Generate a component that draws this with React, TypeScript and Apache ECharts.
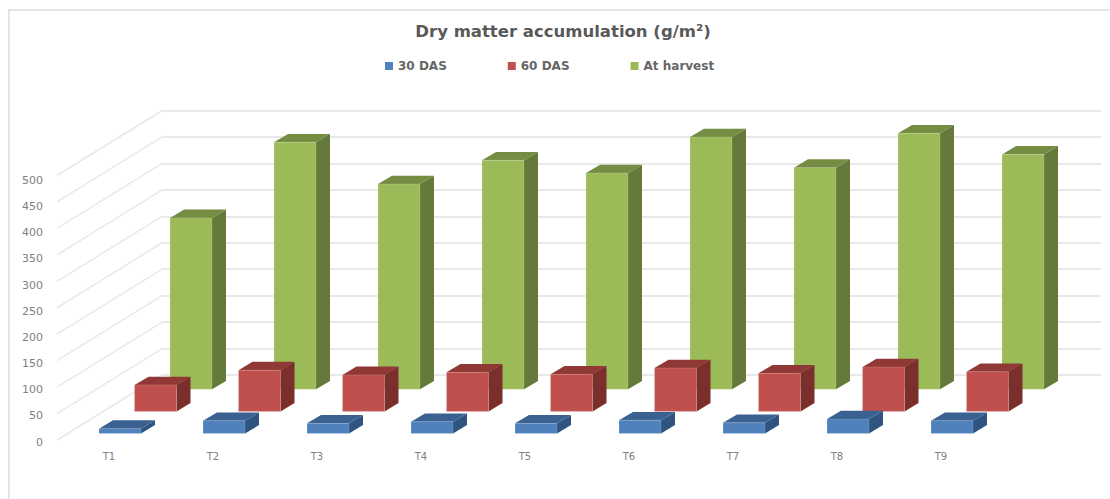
import React, { useEffect, useRef } from "react";
import * as echarts from "echarts";

const categories = ["T1", "T2", "T3", "T4", "T5", "T6", "T7", "T8", "T9"];
const das30 = [9, 24, 19, 22, 19, 25, 20, 27, 24];
const das60 = [50, 78, 69, 74, 70, 82, 72, 84, 75];
const atHarvest = [324, 467, 388, 433, 409, 477, 419, 484, 444];
const yTicks = [0, 50, 100, 150, 200, 250, 300, 350, 400, 450, 500];

const FONT = "DejaVu Sans";
const BAR_W = 42;
const THICK_X = 14;
const THICK_Y = -8.3;
const WALL_DX = 106;
const WALL_DY = -65.5;

const bar3d = (shiftX: number, shiftY: number, front: string, top: string, side: string) =>
  (_p: any, api: any) => {
    const base = api.coord([api.value(0), 0]);
    const peak = api.coord([api.value(0), api.value(1)]);
    const l = base[0] + shiftX - BAR_W / 2;
    const r = l + BAR_W;
    const b = base[1] + shiftY;
    const t = peak[1] + shiftY;
    return {
      type: "group",
      silent: true,
      children: [
        {
          type: "polygon",
          shape: { points: [[r, t], [r + THICK_X, t + THICK_Y], [r + THICK_X, b + THICK_Y], [r, b]] },
          style: { fill: side },
        },
        {
          type: "polygon",
          shape: { points: [[l, t], [l + THICK_X, t + THICK_Y], [r + THICK_X, t + THICK_Y], [r, t]] },
          style: { fill: top },
        },
        {
          type: "polygon",
          shape: { points: [[l, t], [r, t], [r, b], [l, b]] },
          style: { fill: front, stroke: "rgba(255,255,255,0.15)", lineWidth: 1 },
        },
      ],
    };
  };

const sideWall = (_p: any, api: any) => {
  const p = api.coord([0, api.value(0)]);
  const x0 = p[0] - 52;
  return {
    type: "line",
    silent: true,
    shape: { x1: x0, y1: p[1], x2: x0 + WALL_DX, y2: p[1] + WALL_DY },
    style: { stroke: "#e9e9e9", lineWidth: 1.5 },
  };
};

const toPairs = (values: number[]) => values.map((v, i) => [i, v]);

export default function App() {
  const ref = useRef<HTMLDivElement>(null);

  useEffect(() => {
    const chart = echarts.init(ref.current!, undefined, { renderer: "svg" });
    chart.setOption({
      animation: false,
      backgroundColor: "#ffffff",
      title: {
        text: "Dry matter accumulation (g/m²)",
        left: 558,
        top: 18,
        textAlign: "center",
        textStyle: { fontFamily: FONT, fontSize: 16.5, fontWeight: "bold", color: "#595959" },
      },
      legend: {
        data: ["30 DAS", "60 DAS", "At harvest"],
        left: 380,
        top: 55,
        icon: "rect",
        itemWidth: 8,
        itemHeight: 8,
        itemGap: 61,
        selectedMode: false,
        textStyle: { fontFamily: FONT, fontSize: 12, fontWeight: "bold", color: "#666666" },
      },
      grid: [
        { left: 57, top: 175.5, width: 936, height: 264.5 },
        { left: 163, top: 110.5, width: 938, height: 264.5 },
        { left: 57, top: 180.5, width: 936, height: 261.5 },
      ],
      xAxis: [
        {
          type: "category",
          gridIndex: 0,
          data: categories,
          axisLine: { show: false },
          axisTick: { show: false },
          axisLabel: { fontFamily: FONT, fontSize: 10, color: "#808080", margin: 11 },
        },
        { type: "category", gridIndex: 1, data: categories, show: false },
        { type: "category", gridIndex: 2, data: categories, show: false },
      ],
      yAxis: [
        {
          type: "value",
          gridIndex: 0,
          min: 0,
          max: 500,
          interval: 50,
          axisLine: { show: false },
          axisTick: { show: false },
          axisLabel: { show: false },
          splitLine: { show: false },
        },
        {
          type: "value",
          gridIndex: 1,
          min: 0,
          max: 500,
          interval: 50,
          axisLine: { show: false },
          axisTick: { show: false },
          axisLabel: { show: false },
          splitLine: { show: true, lineStyle: { color: "#e9e9e9", width: 2 } },
        },
        {
          type: "value",
          gridIndex: 2,
          min: 0,
          max: 500,
          interval: 50,
          axisLine: { show: false },
          axisTick: { show: false },
          splitLine: { show: false },
          axisLabel: { fontFamily: FONT, fontSize: 11, color: "#808080", margin: 14 },
        },
      ],
      series: [
        {
          type: "custom",
          name: "wall",
          xAxisIndex: 0,
          yAxisIndex: 0,
          data: yTicks.map((v) => [v]),
          encode: { y: 0 },
          renderItem: sideWall,
          clip: false,
          silent: true,
        },
        {
          type: "custom",
          name: "At harvest",
          xAxisIndex: 0,
          yAxisIndex: 0,
          data: toPairs(atHarvest),
          encode: { x: 0, y: 1 },
          itemStyle: { color: "#9bbb59" },
          renderItem: bar3d(82, -50.7, "#9bbb59", "#758d43", "#64793a"),
          clip: false,
        },
        {
          type: "custom",
          name: "60 DAS",
          xAxisIndex: 0,
          yAxisIndex: 0,
          data: toPairs(das60),
          encode: { x: 0, y: 1 },
          itemStyle: { color: "#c0504d" },
          renderItem: bar3d(46.5, -28.6, "#c0504d", "#8f3835", "#7b2e2c"),
          clip: false,
        },
        {
          type: "custom",
          name: "30 DAS",
          xAxisIndex: 0,
          yAxisIndex: 0,
          data: toPairs(das30),
          encode: { x: 0, y: 1 },
          itemStyle: { color: "#4f81bd" },
          renderItem: bar3d(11, -6.6, "#4f81bd", "#3a6190", "#2f5480"),
          clip: false,
        },
      ],
      graphic: [
        { type: "line", shape: { x1: 8, y1: 10, x2: 1110, y2: 10 }, style: { stroke: "#e4e4e4", lineWidth: 2 }, silent: true },
        { type: "line", shape: { x1: 9, y1: 9, x2: 9, y2: 499 }, style: { stroke: "#e4e4e4", lineWidth: 2 }, silent: true },
      ],
    });
    return () => chart.dispose();
  }, []);

  return <div ref={ref} style={{ position: "fixed", left: 0, top: 0, width: 1110, height: 499 }} />;
}
